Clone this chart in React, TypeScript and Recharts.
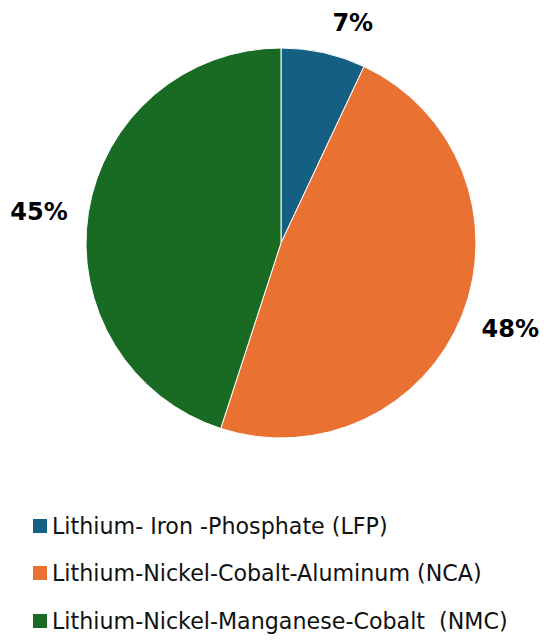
import { PieChart, Pie, Cell, Legend } from 'recharts';

const chemistries = [
  'Lithium- Iron -Phosphate (LFP)',
  'Lithium-Nickel-Cobalt-Aluminum (NCA)',
  'Lithium-Nickel-Manganese-Cobalt  (NMC)',
];
const shares = [7, 48, 45];
const colors = ['#156082', '#E97132', '#196B24'];
const labelPush = [36, 50, 49];
const labelTurn = [-5.5, 1, 1.7];

const data = chemistries.map((name, i) => ({ name, value: shares[i] }));

const RADIAN = Math.PI / 180;

function renderLabel(props: any) {
  const { cx, cy, midAngle, outerRadius, value, index } = props;
  const r = outerRadius + labelPush[index];
  const a = (midAngle + labelTurn[index]) * RADIAN;
  const x = cx + r * Math.cos(-a);
  const y = cy + r * Math.sin(-a);
  return (
    <text
      x={x}
      y={y}
      fill="#000"
      textAnchor="middle"
      dominantBaseline="central"
      fontSize={24}
      fontWeight="bold"
      fontFamily="'DejaVu Sans', sans-serif"
    >
      {value}%
    </text>
  );
}

function LegendBox() {
  return (
    <div style={{ fontFamily: "'DejaVu Sans', sans-serif", fontSize: 22.2, color: '#111' }}>
      {chemistries.map((name, i) => (
        <div key={name} style={{ display: 'flex', alignItems: 'center', height: 47.5, whiteSpace: 'pre' }}>
          <span style={{ display: 'inline-block', width: 14, height: 14, background: colors[i], marginRight: 5 }} />
          {name}
        </div>
      ))}
    </div>
  );
}

export default function App() {
  return (
    <div style={{ position: 'absolute', left: 0, top: 0, background: '#fff' }}>
      <PieChart width={550} height={641}>
        <Pie
          data={data}
          dataKey="value"
          nameKey="name"
          cx={276}
          cy={238}
          outerRadius={195}
          startAngle={90}
          endAngle={-270}
          stroke="#fff"
          strokeWidth={1}
          label={renderLabel}
          labelLine={false}
          isAnimationActive={false}
        >
          {data.map((d, i) => (
            <Cell key={d.name} fill={colors[i]} />
          ))}
        </Pie>
        <Legend
          content={<LegendBox />}
          wrapperStyle={{ position: 'absolute', left: 33, top: 502, width: 515 }}
        />
      </PieChart>
    </div>
  );
}
